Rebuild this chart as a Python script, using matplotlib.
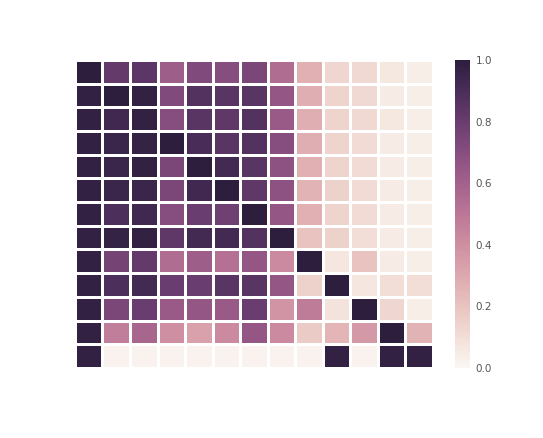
import numpy as np
import matplotlib
matplotlib.use("Agg")
import matplotlib.pyplot as plt
import seaborn as sns

sns.set_style("white")
plt.rcParams['font.family'] = ['DejaVu Sans']

# 13 x 13 matrix (rows top to bottom)
row0 = [1.00, 0.82, 0.84, 0.62, 0.72, 0.70, 0.74, 0.55, 0.27, 0.13, 0.12, 0.06, 0.04]
row1 = [0.98, 1.00, 0.98, 0.72, 0.87, 0.85, 0.85, 0.66, 0.28, 0.14, 0.12, 0.05, 0.04]
row2 = [0.98, 0.93, 0.98, 0.70, 0.85, 0.83, 0.87, 0.64, 0.28, 0.14, 0.12, 0.06, 0.04]
row3 = [0.98, 0.95, 0.97, 1.00, 0.90, 0.85, 0.87, 0.70, 0.28, 0.14, 0.11, 0.05, 0.04]
row4 = [0.98, 0.95, 0.98, 0.74, 1.00, 0.92, 0.85, 0.68, 0.27, 0.14, 0.11, 0.05, 0.04]
row5 = [0.98, 0.95, 0.95, 0.74, 0.93, 1.00, 0.83, 0.68, 0.26, 0.15, 0.11, 0.05, 0.04]
row6 = [0.98, 0.89, 0.93, 0.70, 0.80, 0.78, 1.00, 0.66, 0.27, 0.14, 0.11, 0.05, 0.04]
row7 = [0.98, 0.97, 0.98, 0.83, 0.92, 0.92, 0.87, 1.00, 0.20, 0.15, 0.10, 0.05, 0.04]
row8 = [0.98, 0.76, 0.82, 0.55, 0.62, 0.53, 0.66, 0.42, 1.00, 0.07, 0.20, 0.05, 0.04]
row9 = [0.98, 0.89, 0.92, 0.80, 0.80, 0.85, 0.85, 0.66, 0.15, 1.00, 0.07, 0.10, 0.10]
row10 = [0.98, 0.74, 0.80, 0.64, 0.66, 0.64, 0.80, 0.38, 0.48, 0.08, 1.00, 0.13, 0.04]
row11 = [0.98, 0.47, 0.58, 0.40, 0.33, 0.42, 0.66, 0.42, 0.17, 0.25, 0.36, 1.00, 0.26]
row12 = [0.98, 0.02, 0.02, 0.02, 0.02, 0.02, 0.02, 0.02, 0.02, 0.98, 0.02, 0.98, 0.98]

data = np.array([row0, row1, row2, row3, row4, row5, row6,
                 row7, row8, row9, row10, row11, row12])

cbar_ticks = [0.0, 0.2, 0.4, 0.6, 0.8, 1.0]

fig = plt.figure(figsize=(5.43, 4.38), dpi=100)
ax = fig.add_axes([0.138, 0.160, 0.659, 0.703])
cax = fig.add_axes([0.838, 0.160, 0.028, 0.703])

cmap = sns.cubehelix_palette(light=0.97, dark=0.15, as_cmap=True)
sns.heatmap(data, ax=ax, cbar_ax=cax, cmap=cmap, vmin=0, vmax=1,
            linewidths=1, linecolor='white',
            xticklabels=False, yticklabels=False,
            cbar_kws={'ticks': cbar_ticks})

cax.tick_params(length=0, labelsize=7.5, labelcolor='#555555', pad=4)
cax.set_yticklabels([f'{t:.1f}' for t in cbar_ticks])
for s in cax.spines.values():
    s.set_visible(False)

plt.savefig('out.png', dpi=100)
